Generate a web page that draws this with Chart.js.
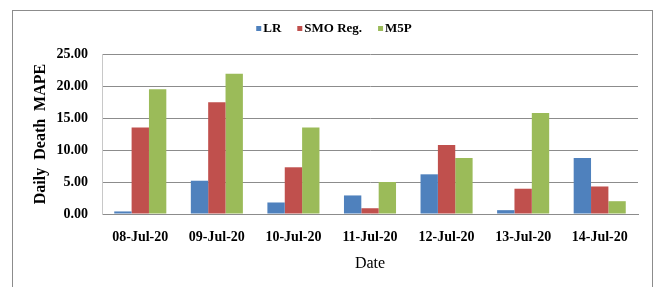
<!DOCTYPE html>
<html>
<head>
<meta charset="utf-8">
<script src="https://cdn.jsdelivr.net/npm/chart.js@4"></script>
<style>
  html, body { margin: 0; padding: 0; background: #ffffff; }
  #wrap { width: 656px; height: 287px; position: relative; }
</style>
</head>
<body>
<div id="wrap"><canvas id="c" width="656" height="287"></canvas></div>
<script>
const categories = ['08-Jul-20', '09-Jul-20', '10-Jul-20', '11-Jul-20', '12-Jul-20', '13-Jul-20', '14-Jul-20'];
const seriesNames = ['LR', 'SMO Reg.', 'M5P'];
const lrValues  = [0.4, 5.2, 1.8, 2.9, 6.2, 0.6, 8.75];
const smoValues = [13.5, 17.45, 7.3, 0.9, 10.8, 3.95, 4.3];
const m5pValues = [19.5, 21.9, 13.5, 5.0, 8.75, 15.8, 2.0];
const yTickValues = [0, 5, 10, 15, 20, 25];
const yTickLabels = ['0.00', '5.00', '10.00', '15.00', '20.00', '25.00'];
const xTitle = 'Date';
const yTitle = 'Daily  Death  MAPE';

const colors = ['#4F81BD', '#C0504D', '#9BBB59'];
const serif = "'Liberation Serif', 'Times New Roman', serif";

const framePlugin = {
  id: 'frame',
  beforeDraw(chart) {
    const ctx = chart.ctx;
    ctx.save();
    ctx.fillStyle = '#ffffff';
    ctx.fillRect(0, 0, chart.width, chart.height);
    ctx.strokeStyle = '#8c8c8c';
    ctx.lineWidth = 1;
    ctx.strokeRect(12.5, 10.5, 640, 290);
    ctx.restore();
  }
};

const legendPlugin = {
  id: 'customLegend',
  afterDraw(chart) {
    const ctx = chart.ctx;
    ctx.save();
    ctx.font = "bold 13px " + serif;
    ctx.textBaseline = 'middle';
    const box = 5, gapText = 2, gapItem = 16;
    const items = chart.data.datasets.map(d => ({ text: d.label, color: d.backgroundColor, w: ctx.measureText(d.label).width }));
    let total = 0;
    items.forEach((it, i) => { total += box + gapText + it.w + (i < items.length - 1 ? gapItem : 0); });
    let x = 334 - total / 2;
    const yc = 28.5;
    items.forEach(it => {
      ctx.fillStyle = it.color;
      ctx.fillRect(x, yc - box / 2, box, box);
      x += box + gapText;
      ctx.fillStyle = '#000000';
      ctx.fillText(it.text, x, yc + 0.5);
      x += it.w + gapItem;
    });
    ctx.restore();
  }
};

const datasets = [lrValues, smoValues, m5pValues].map((vals, i) => ({
  label: seriesNames[i],
  data: vals,
  backgroundColor: colors[i],
  borderWidth: 0,
  categoryPercentage: 0.68,
  barPercentage: 1.0
}));

new Chart(document.getElementById('c'), {
  type: 'bar',
  data: { labels: categories, datasets },
  plugins: [framePlugin, legendPlugin],
  options: {
    responsive: false,
    animation: false,
    devicePixelRatio: 1,
    layout: { padding: { left: 0, right: 18, top: 54, bottom: 0 } },
    plugins: { legend: { display: false }, tooltip: { enabled: false } },
    scales: {
      x: {
        grid: { display: false, drawTicks: false },
        border: { display: true, color: '#8c8c8c', width: 1 },
        ticks: { color: '#000000', padding: 15, maxRotation: 0, font: { family: serif, size: 14, weight: 'bold' } },
        title: { display: true, text: xTitle, color: '#000000', font: { family: serif, size: 16, weight: 'normal' }, padding: { top: 0, bottom: 14 } },
        afterFit(scale) { scale.height = 73; }
      },
      y: {
        min: 0, max: 25,
        afterBuildTicks(scale) { scale.ticks = yTickValues.map(v => ({ value: v })); },
        grid: { color: '#8c8c8c', lineWidth: 1, drawTicks: false },
        border: { display: true, color: '#c8c8c8', width: 1 },
        ticks: {
          color: '#000000', padding: 14,
          font: { family: serif, size: 14, weight: 'bold' },
          callback: (v) => { const i = yTickValues.indexOf(v); return i >= 0 ? yTickLabels[i] : ''; }
        },
        title: { display: true, text: yTitle, color: '#000000', font: { family: serif, size: 16, weight: 'bold' }, padding: { top: 31, bottom: 0 } },
        afterFit(scale) { scale.width = 102; }
      }
    }
  }
});
</script>
</body>
</html>
